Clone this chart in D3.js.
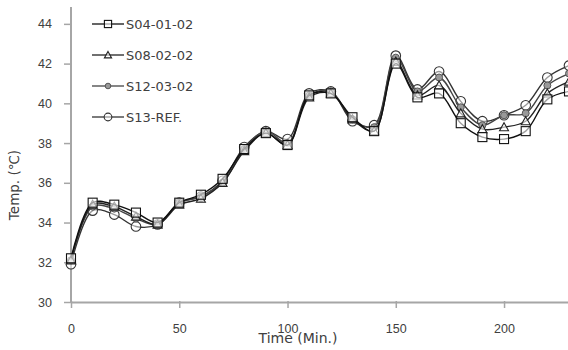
<!DOCTYPE html>
<html>
<head>
<meta charset="utf-8">
<script src="https://cdn.jsdelivr.net/npm/d3@7"></script>
<style>
  body { margin: 0; background: #fff; }
  svg { display: block; font-family: "DejaVu Sans", Verdana, sans-serif; }
</style>
</head>
<body>
<div id="chart"></div>
<script>
const times = [0, 10, 20, 30, 40, 50, 60, 70, 80, 90, 100, 110, 120, 130, 140, 150, 160, 170, 180, 190, 200, 210, 220, 230];
const s04 = [32.2, 35.0, 34.9, 34.5, 34.0, 35.0, 35.4, 36.2, 37.7, 38.5, 37.9, 40.4, 40.5, 39.3, 38.6, 42.0, 40.3, 40.5, 39.0, 38.3, 38.2, 38.6, 40.2, 40.6];
const s08 = [32.1, 34.9, 34.8, 34.3, 33.9, 34.9, 35.2, 36.0, 37.6, 38.5, 37.9, 40.3, 40.5, 39.2, 38.6, 42.1, 40.4, 40.9, 39.5, 38.7, 38.8, 39.1, 40.5, 41.1];
const s12 = [32.1, 34.8, 34.7, 34.2, 33.9, 35.0, 35.3, 36.0, 37.7, 38.6, 38.0, 40.4, 40.6, 39.2, 38.8, 42.3, 40.6, 41.3, 39.8, 38.9, 39.4, 39.5, 40.9, 41.5];
const s13 = [31.9, 34.6, 34.4, 33.8, 33.9, 35.0, 35.3, 36.1, 37.8, 38.6, 38.2, 40.5, 40.6, 39.1, 38.9, 42.4, 40.7, 41.6, 40.1, 39.1, 39.4, 39.9, 41.3, 41.9];
const seriesNames = ['S04-01-02', 'S08-02-02', 'S12-03-02', 'S13-REF.'];
const xTicks = [0, 50, 100, 150, 200];
const yTicks = [30, 32, 34, 36, 38, 40, 42, 44];

const series = [
  { name: seriesNames[0], values: s04, marker: 'square', stroke: '#111' },
  { name: seriesNames[1], values: s08, marker: 'triangle', stroke: '#222' },
  { name: seriesNames[2], values: s12, marker: 'dot', stroke: '#444' },
  { name: seriesNames[3], values: s13, marker: 'circle', stroke: '#333' }
];

const width = 568, height = 350;
const x = d3.scaleLinear().domain([0, 230]).range([71, 569]);
const y = d3.scaleLinear().domain([30, 45]).range([302, 4]);

const svg = d3.select('#chart').append('svg')
  .attr('width', width)
  .attr('height', height);

const axisColor = '#a6a6a6';
const textColor = '#404040';

// axes
const yAxis = svg.append('g')
  .attr('transform', `translate(${x(0)},0)`)
  .call(d3.axisLeft(y).tickValues(yTicks).tickSize(7).tickPadding(12).tickSizeOuter(0));
const xAxis = svg.append('g')
  .attr('transform', `translate(0,${y(30)})`)
  .call(d3.axisBottom(x).tickValues(xTicks).tickSize(6).tickPadding(16).tickSizeOuter(0));

[xAxis, yAxis].forEach(a => {
  a.select('.domain').attr('stroke', axisColor).attr('stroke-width', 2);
  a.selectAll('.tick line').attr('stroke', axisColor).attr('stroke-width', 1.5);
  a.selectAll('.tick text').attr('fill', textColor).style('font-size', '12.5px');
});
xAxis.selectAll('.tick line').attr('y1', -1);
yAxis.select('.domain').attr('d', `M0,${y(30)}V7`);

svg.append('text')
  .attr('transform', `translate(19,185) rotate(-90)`)
  .attr('text-anchor', 'middle')
  .attr('fill', textColor)
  .style('font-size', '13.5px')
  .text('Temp. (℃)');

svg.append('text')
  .attr('x', 298)
  .attr('y', 343)
  .attr('text-anchor', 'middle')
  .attr('fill', textColor)
  .style('font-size', '14px')
  .text('Time (Min.)');

const line = d3.line()
  .x((d, i) => x(times[i]))
  .y(d => y(d))
  .curve(d3.curveCatmullRom.alpha(0.5));

function drawMarker(g, type, cx, cy, k = 1) {
  if (type === 'square') {
    const h = 4.5 * k;
    g.append('rect').attr('x', cx - h).attr('y', cy - h).attr('width', 2 * h).attr('height', 2 * h)
      .attr('fill', '#fff').attr('fill-opacity', 0.6).attr('stroke', '#111').attr('stroke-width', 1.1);
  } else if (type === 'triangle') {
    const h = 4.5 * k;
    g.append('path').attr('d', `M${cx},${cy - h}L${cx + h},${cy + 0.8 * h}L${cx - h},${cy + 0.8 * h}Z`)
      .attr('fill', '#fff').attr('fill-opacity', 0.6).attr('stroke', '#222').attr('stroke-width', 1.1);
  } else if (type === 'dot') {
    g.append('circle').attr('cx', cx).attr('cy', cy).attr('r', 3.5 * k)
      .attr('fill', '#999').attr('stroke', '#555').attr('stroke-width', 1);
  } else {
    g.append('circle').attr('cx', cx).attr('cy', cy).attr('r', 4.8 * k)
      .attr('fill', '#fff').attr('fill-opacity', 0.5).attr('stroke', '#333').attr('stroke-width', 1.1);
  }
}

const plot = svg.append('g');
series.slice().reverse().forEach(s => {
  const g = plot.append('g');
  g.append('path')
    .datum(s.values)
    .attr('d', line)
    .attr('fill', 'none')
    .attr('stroke', s.stroke)
    .attr('stroke-width', 1.4);
  s.values.forEach((v, i) => drawMarker(g, s.marker, x(times[i]), y(v)));
});

// legend
const legendY = [24, 55, 86, 117];
series.forEach((s, i) => {
  const g = svg.append('g');
  g.append('line')
    .attr('x1', 92).attr('x2', 124)
    .attr('y1', legendY[i]).attr('y2', legendY[i])
    .attr('stroke', s.stroke).attr('stroke-width', 1.3);
  drawMarker(g, s.marker, 108, legendY[i], 0.8);
  g.append('text')
    .attr('x', 126)
    .attr('y', legendY[i] + 4.5)
    .attr('fill', textColor)
    .style('font-size', '13px')
    .text(s.name);
});
</script>
</body>
</html>
